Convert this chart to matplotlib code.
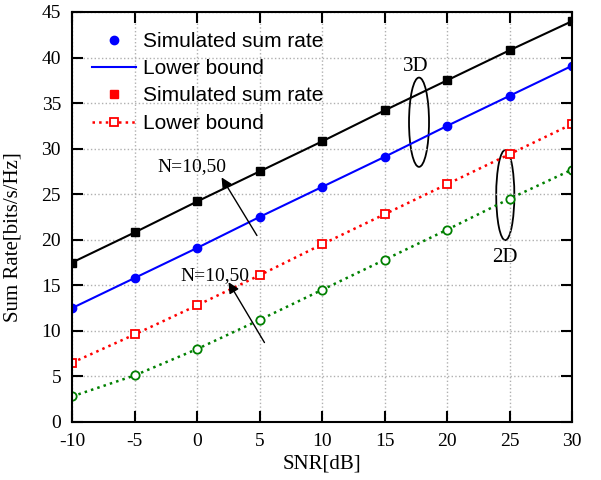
import numpy as np
import matplotlib
matplotlib.use("Agg")
import matplotlib.pyplot as plt
from matplotlib.patches import Ellipse

# data
snr = [-10, -5, 0, 5, 10, 15, 20, 25, 30]
sim_3d_n50 = [17.5, 20.8, 24.2, 27.5, 30.8, 34.2, 37.5, 40.8, 44.0]
low_3d_n10 = [12.5, 15.8, 19.1, 22.5, 25.8, 29.1, 32.5, 35.8, 39.1]
sim_2d_n50 = [6.5, 9.6, 12.8, 16.1, 19.5, 22.8, 26.1, 29.4, 32.7]
low_2d_n10 = [2.8, 5.1, 8.0, 11.2, 14.5, 17.8, 21.1, 24.5, 27.7]

xticks = [-10, -5, 0, 5, 10, 15, 20, 25, 30]
yticks = [0, 5, 10, 15, 20, 25, 30, 35, 40, 45]

plt.rcParams['font.family'] = ['Liberation Serif', 'DejaVu Serif']

fig = plt.figure(figsize=(6.01, 4.80), dpi=100)
ax = fig.add_axes([0.12, 0.121, 0.832, 0.854])

ax.plot(snr, sim_3d_n50, '-', color='black', lw=1.5, marker='s', ms=6)
ax.plot(snr, low_3d_n10, '-', color='#0000ff', lw=1.5, marker='o', ms=6)
ax.plot(snr, sim_2d_n50, ':', color='#ff0000', lw=1.8, marker='s', ms=6,
        mfc='white', mew=1.3)
ax.plot(snr, low_2d_n10, ':', color='#008000', lw=1.8, marker='o', ms=6,
        mfc='white', mew=1.3)

ax.set_xlim(-10, 30)
ax.set_ylim(0, 45)
ax.set_xticks(xticks)
ax.set_yticks(yticks)
ax.set_xticklabels([str(v) for v in xticks])
ax.tick_params(direction='in', length=8, width=1.5, labelsize=14,
               top=True, right=True, pad=8)
ax.grid(True, linestyle=':', color='#b0b0b0', lw=1.0)
for s in ax.spines.values():
    s.set_linewidth(1.5)

ax.set_xlabel('SNR[dB]', fontsize=15, labelpad=3)
ax.set_ylabel('Sum Rate[bits/s/Hz]', fontsize=15)
ax.yaxis.set_label_coords(-0.1, 0.45)

# legend (only the blue / red entries are labelled)
h1, = ax.plot([], [], 'o', color='#0000ff', ms=6)
h2, = ax.plot([], [], '-', color='#0000ff', lw=1.5)
h3, = ax.plot([], [], 's', color='#ff0000', ms=6)
h4, = ax.plot([], [], ':', color='#ff0000', lw=1.8, marker='s', ms=6,
              mfc='white', mew=1.3)
ax.legend([h1, h2, h3, h4],
          ['Simulated sum rate', 'Lower bound', 'Simulated sum rate', 'Lower bound'],
          loc='upper left', bbox_to_anchor=(0.0, 1.0), frameon=False,
          prop={'family': 'Liberation Sans', 'size': 15},
          handlelength=2.1, handletextpad=0.35, labelspacing=0.4,
          borderaxespad=0.55, numpoints=1)

# ellipses and labels
ax.add_patch(Ellipse((17.75, 32.9), 1.6, 9.8, fill=False, color='black', lw=1.3))
ax.text(17.5, 39.0, '3D', fontsize=15, ha='center', va='center')
ax.add_patch(Ellipse((24.65, 24.9), 1.45, 9.9, fill=False, color='black', lw=1.3))
ax.text(24.65, 18.0, '2D', fontsize=15, ha='center', va='center')

ax.annotate('', xy=(1.84, 27.1), xytext=(4.9, 20.2),
            arrowprops=dict(arrowstyle='-|>', color='black', lw=1.0,
                            mutation_scale=16))
ax.text(-0.4, 28.0, 'N=10,50', fontsize=14, ha='center', va='center')
ax.annotate('', xy=(2.4, 15.6), xytext=(5.5, 8.45),
            arrowprops=dict(arrowstyle='-|>', color='black', lw=1.0,
                            mutation_scale=16))
ax.text(1.4, 16.1, 'N=10,50', fontsize=14, ha='center', va='center')

fig.savefig('out.png', dpi=100)
